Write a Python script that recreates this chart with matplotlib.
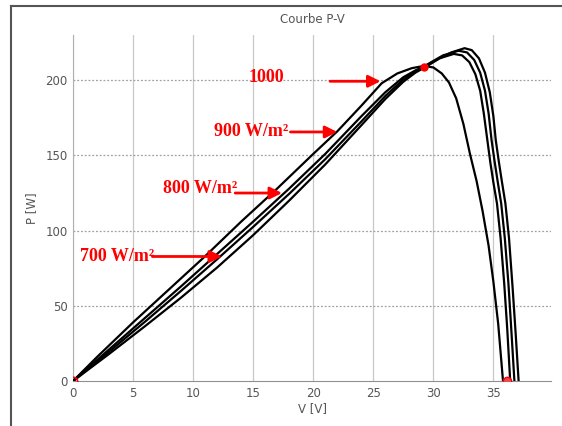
import numpy as np
import matplotlib.pyplot as plt
from matplotlib.lines import Line2D

# -------- data (V in volts, P in watts) --------
v_a = [0, 2, 5, 8, 11, 14, 17, 20, 22, 24, 25.7, 27, 28.2, 29.2, 30, 30.7, 31.3, 31.9,
       32.5, 33.05, 33.6, 34.1, 34.6, 35.0, 35.4, 35.8]
p_a = [0, 16, 39, 61, 83, 106, 128, 151, 166, 183, 198, 204.5, 208, 209.5, 208.5, 204.5, 198.5, 188,
       171, 151, 133, 113, 90, 66, 38, 0]

v_b = [0, 3, 6, 9, 12, 15, 18, 21, 24, 26, 27.5, 28.5, 29.5, 30.5, 31.7, 32.4, 33.0, 33.5,
       33.9, 34.2, 34.5, 34.75, 35.0, 35.3, 35.6, 35.9, 36.15, 36.4]
p_b = [0, 21, 42, 63, 84.5, 106, 128, 151, 176, 192, 202, 206.5, 210, 214.5, 217.5, 216.5, 212, 204,
       193, 178, 160, 145, 132, 118, 95, 65, 35, 0]

v_c = [0, 3, 6, 9, 12, 15, 18, 21, 24, 26, 27.5, 28.5, 29.5, 30.8, 32.1, 32.8, 33.4, 33.9,
       34.3, 34.6, 34.85, 35.1, 35.35, 35.65, 35.95, 36.25, 36.5, 36.75]
p_c = [0, 19.5, 39.5, 60, 81, 102.5, 124.5, 147.5, 172.5, 189.5, 200.5, 206, 210.5, 216.5, 219.6, 218.5, 213.5, 205,
       193, 178, 160, 146, 133, 118, 95, 65, 33, 0]

v_d = [0, 3, 6, 9, 12, 15, 18, 21, 24, 26, 27.5, 28.5, 29.5, 30.5, 31.5, 32.6, 33.2, 33.8,
       34.3, 34.7, 35.0, 35.2, 35.45, 35.7, 36.0, 36.3, 36.6, 36.85, 37.1]
p_d = [0, 18, 36.5, 55.5, 75.5, 97, 120, 144, 170, 187.5, 199, 205, 209.5, 214.5, 218.5, 221.3, 220, 214.5,
       205, 192, 176, 160, 146, 133, 118, 95, 62, 32, 0]

curves_v = [v_a, v_b, v_c, v_d]
curves_p = [p_a, p_b, p_c, p_d]

# red marked points: origin, open-circuit voltage, maximum power point
mark_v = [0, 36.1, 29.2]
mark_p = [0, 0, 209]

x_ticks = [0, 5, 10, 15, 20, 25, 30, 35]
y_ticks = [0, 50, 100, 150, 200]

labels = ["1000", "900 W/m\u00b2", "800 W/m\u00b2", "700 W/m\u00b2"]


def main():
    fig = plt.figure(figsize=(5.62, 4.26), dpi=100)
    fig.patch.set_facecolor("white")

    # frame around the picture (left and top edges only visible)
    fig.add_artist(Line2D([0.019, 0.019], [0.0, 0.986], color="#555555", lw=1.5))
    fig.add_artist(Line2D([0.019, 1.0], [0.986, 0.986], color="#555555", lw=1.5))

    ax = fig.add_axes([0.130, 0.1056, 0.8505, 0.812])

    for v, p in zip(curves_v, curves_p):
        ax.plot(v, p, color="black", lw=1.6, zorder=3, solid_joinstyle="round")

    ax.plot(mark_v[0], mark_p[0], "o", ms=6, mfc="none", mec="red", mew=1.2, zorder=4)
    ax.plot(mark_v[1], mark_p[1], "o", ms=6, mfc="#e05050", mec="red", mew=1.0, zorder=4)
    ax.plot(mark_v[2], mark_p[2], "o", ms=5, mfc="red", mec="red", zorder=4)

    ax.set_xlim(0, 39.8)
    ax.set_ylim(0, 230)
    ax.set_xticks(x_ticks)
    ax.set_yticks(y_ticks)
    ax.tick_params(length=0, labelsize=8.5, labelcolor="#555555", pad=4)

    # grid: light solid verticals, dotted horizontals
    for xv in x_ticks:
        ax.axvline(xv, color="#c8c8c8", lw=0.9, zorder=1)
    for yv in y_ticks[1:]:
        ax.axhline(yv, color="#a0a0a0", lw=0.9, ls=(0, (1.5, 1.5)), zorder=1)

    for s in ["top", "right"]:
        ax.spines[s].set_visible(False)
    ax.spines["left"].set_color("#b0b0b0")
    ax.spines["bottom"].set_color("#909090")

    ax.set_title("Courbe P-V", fontsize=8.5, color="#555555", pad=9)
    ax.set_xlabel("V [V]", fontsize=8.5, color="#555555", labelpad=2)
    ax.set_ylabel("P [W]", fontsize=8.5, color="#555555", labelpad=5)

    # red annotations with arrows
    text_pos = [(14.6, 202), (11.7, 165.6), (7.5, 127.8), (0.6, 82.8)]
    arrow_from = [(21.4, 199.3), (18.1, 165.6), (13.5, 125), (6.6, 82.8)]
    arrow_to = [(25.6, 199.3), (22.0, 165.6), (17.4, 125), (12.4, 82.8)]
    for lab, tp, af, at in zip(labels, text_pos, arrow_from, arrow_to):
        ax.text(tp[0], tp[1], lab, color="red", fontsize=13, fontweight="bold",
                family="Liberation Serif", va="center", ha="left", zorder=5)
        ax.annotate("", xy=at, xytext=af,
                    arrowprops=dict(arrowstyle="-|>", color="red", lw=2,
                                    mutation_scale=18, shrinkA=0, shrinkB=0),
                    zorder=5)

    fig.savefig("out.png", dpi=100)


if __name__ == "__main__":
    main()
